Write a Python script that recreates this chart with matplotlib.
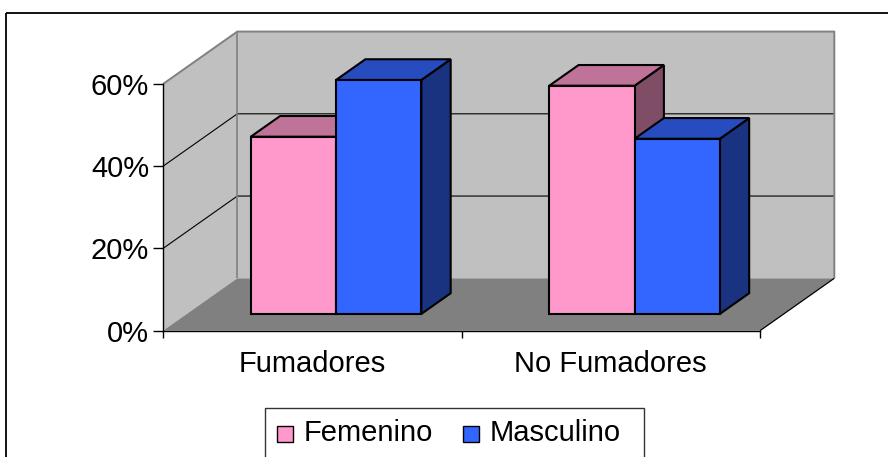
import matplotlib.pyplot as plt
from matplotlib.patches import Polygon, Rectangle
from matplotlib.ticker import PercentFormatter

plt.rcParams['font.family'] = ['Liberation Sans', 'DejaVu Sans']

# data
categories = ['Fumadores', 'No Fumadores']
series = ['Femenino', 'Masculino']
femenino = [43.1, 55.5]
masculino = [56.9, 42.6]
yticks = [0, 20, 40, 60]

# colours: front, top, side
pink = ('#FF99CC', '#BF7399', '#804D66')
blue = ('#3366FF', '#264CBF', '#1A3380')

fig = plt.figure(figsize=(8.88, 4.57), dpi=100)

# background layer in pixels (outer frame + legend)
bg = fig.add_axes([0, 0, 1, 1])
bg.set_xlim(0, 888)
bg.set_ylim(457, 0)
bg.axis('off')
bg.add_patch(Rectangle((6, 13), 900, 470, fill=False, ec='black', lw=1.3))

# front plane of the 3d chart
ax = fig.add_axes([163 / 888, 126.3 / 457, 597 / 888, 246.7 / 457])
ax.set_xlim(0, 2)
ax.set_ylim(0, 60)
ax.patch.set_visible(False)

DX, DY = 0.249, 12.75   # full depth of the box
d0, d1 = 0.32, 0.715    # depth range of the bars
top = yticks[-1]


def poly(pts, fc, ec='none', lw=0, z=1):
    ax.add_patch(Polygon(pts, closed=True, fc=fc, ec=ec, lw=lw, zorder=z,
                         clip_on=False, joinstyle='miter'))


def line(xs, ys, c, lw):
    ax.plot(xs, ys, color=c, lw=lw, clip_on=False, zorder=1.2,
            solid_capstyle='butt')


# walls and floor
poly([(0, 0), (0, top), (DX, top + DY), (DX, DY)], '#C0C0C0', z=0.5)
poly([(DX, DY), (2 + DX, DY), (2 + DX, top + DY), (DX, top + DY)], '#C0C0C0', z=0.5)
poly([(0, 0), (2, 0), (2 + DX, DY), (DX, DY)], '#808080', z=0.6)

for v in yticks[1:-1]:
    line([0, DX, 2 + DX], [v, v + DY, v + DY], 'black', 0.8)
line([0, DX, 2 + DX, 2 + DX], [top, top + DY, top + DY, DY], '#808080', 1.4)
line([DX, DX], [DY, top + DY], '#808080', 1.2)
line([2, 2 + DX], [0, DY], 'black', 0.9)

# bars
gap = 1.5
w = 1 / (2 + gap)
ox, oy = d0 * DX, d0 * DY
bx, by = (d1 - d0) * DX, (d1 - d0) * DY
for i in range(len(categories)):
    for j, (vals, cols) in enumerate([(femenino, pink), (masculino, blue)]):
        h = vals[i]
        x0 = i + gap * w / 2 + j * w + ox
        x1 = x0 + w
        poly([(x1, oy), (x1 + bx, oy + by), (x1 + bx, oy + h + by), (x1, oy + h)],
             cols[2], 'black', 1.5, 1.5)
        poly([(x0, oy + h), (x1, oy + h), (x1 + bx, oy + h + by), (x0 + bx, oy + h + by)],
             cols[1], 'black', 1.5, 1.5)
        poly([(x0, oy), (x1, oy), (x1, oy + h), (x0, oy + h)],
             cols[0], 'black', 1.5, 1.5)

# axes
for s in ['top', 'right']:
    ax.spines[s].set_visible(False)
for s in ['left', 'bottom']:
    ax.spines[s].set_linewidth(1.0)
ax.set_yticks(yticks)
ax.yaxis.set_major_formatter(PercentFormatter(decimals=0))
ax.tick_params(axis='y', length=7, width=1, pad=3, labelsize=21)
ax.set_xticks([0.5, 1.5], categories)
ax.set_xticks([0, 1, 2], minor=True)
ax.tick_params(axis='x', which='major', length=0, pad=14, labelsize=21)
ax.tick_params(axis='x', which='minor', length=5, width=1)

# legend
bg.add_patch(Rectangle((265, 408), 379, 80, fill=False, ec='#333333', lw=1.0))
for name, cols, sx in [(series[0], pink, 277), (series[1], blue, 463)]:
    bg.add_patch(Rectangle((sx, 425.5), 16, 16, fc=cols[0], ec='black', lw=1.0))
    bg.text(sx + 27, 441, name, fontsize=21, va='baseline', ha='left')

fig.savefig('out.png', dpi=100)
